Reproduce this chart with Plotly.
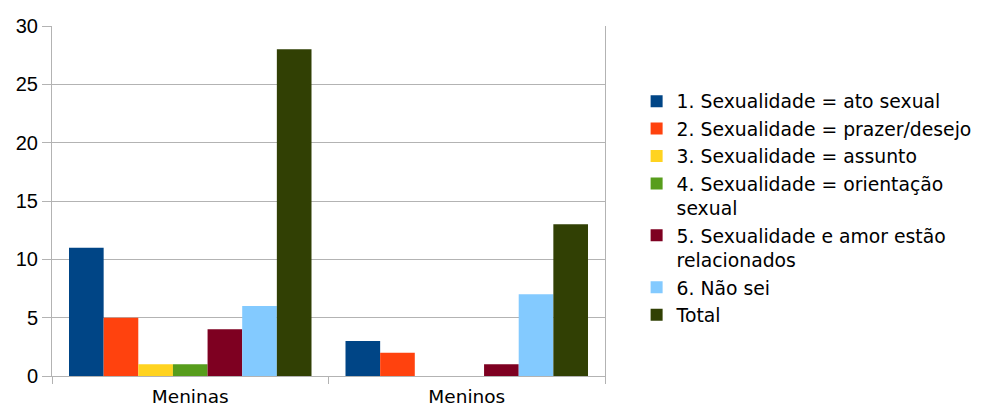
import plotly.graph_objects as go

categories = ["Meninas", "Meninos"]
series_names = [
    "1. Sexualidade = ato sexual",
    "2. Sexualidade = prazer/desejo",
    "3. Sexualidade = assunto",
    "4. Sexualidade = orientação<br>sexual",
    "5. Sexualidade e amor estão<br>relacionados",
    "6. Não sei",
    "Total",
]
s1 = [11, 3]
s2 = [5, 2]
s3 = [1, 0]
s4 = [1, 0]
s5 = [4, 1]
s6 = [6, 7]
total = [28, 13]
values = [s1, s2, s3, s4, s5, s6, total]
colors = ["#004586", "#ff420e", "#ffd320", "#579d1c", "#7e0021", "#83caff", "#314004"]
y_ticks = [0, 5, 10, 15, 20, 25, 30]

fig = go.Figure()
for name, vals, col in zip(series_names, values, colors):
    fig.add_trace(go.Bar(x=categories, y=vals, name=name, marker=dict(color=col, line=dict(width=0))))

font = "Liberation Sans, Arial, sans-serif"
fig.update_layout(
    width=987, height=408,
    margin=dict(l=52, r=382, t=26, b=32, autoexpand=False),
    paper_bgcolor="white", plot_bgcolor="white",
    barmode="group", bargap=0.123, bargroupgap=0,
    font=dict(family=font, size=20, color="#000000"),
    showlegend=True,
    legend=dict(
        xref="container", yref="container",
        x=0.645, y=0.798, xanchor="left", yanchor="top",
        font=dict(family="DejaVu Sans, sans-serif", size=18.8, color="#000000"),
        valign="top", itemwidth=30, tracegroupgap=0, maxheight=400,
        bgcolor="rgba(0,0,0,0)",
    ),
    xaxis=dict(
        showline=True, linecolor="#b3b3b3", linewidth=1,
        mirror=False, automargin=False,
        ticks="outside", tickson="boundaries", ticklen=7, tickcolor="#b3b3b3",
        showgrid=False, tickfont=dict(family="DejaVu Sans, sans-serif", size=18.5),
        ticklabelstandoff=4,
    ),
    yaxis=dict(
        range=[0, 30], tickvals=y_ticks, automargin=False,
        showline=True, linecolor="#b3b3b3", linewidth=1, mirror=True,
        ticks="outside", ticklen=9, tickcolor="#b3b3b3",
        showgrid=True, gridcolor="#b3b3b3", gridwidth=1,
        zeroline=False, tickfont=dict(size=20),
    ),
)
fig.write_html("out.html")
